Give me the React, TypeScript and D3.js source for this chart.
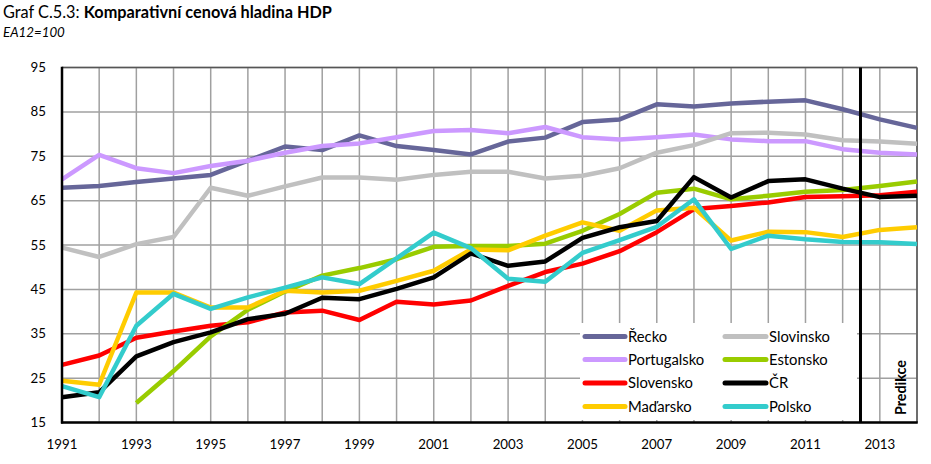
import React from "react";
import * as d3 from "d3";

const years = d3.range(1991, 2015);

const recko = [67.9, 68.3, 69.2, 70.0, 70.8, 74.0, 77.2, 76.4, 79.7, 77.3, 76.4, 75.4, 78.3, 79.2, 82.7, 83.3, 86.7, 86.2, 86.9, 87.3, 87.6, 85.6, 83.3, 81.4];
const portugalsko = [69.8, 75.3, 72.3, 71.2, 72.8, 74.0, 75.8, 77.3, 77.9, 79.3, 80.7, 80.9, 80.2, 81.6, 79.3, 78.8, 79.3, 79.9, 78.8, 78.4, 78.4, 76.6, 75.8, 75.4];
const slovinsko = [54.4, 52.3, 55.2, 56.8, 67.9, 66.1, 68.2, 70.2, 70.2, 69.7, 70.8, 71.5, 71.5, 70.0, 70.6, 72.3, 75.8, 77.5, 80.2, 80.3, 79.9, 78.6, 78.3, 77.8];
const estonsko = [null, null, 19.4, 26.6, 34.4, 40.4, 44.5, 48.1, 49.8, 51.8, 54.6, 54.8, 54.8, 55.3, 58.2, 62.0, 66.8, 67.7, 65.3, 66.1, 67.0, 67.4, 68.3, 69.3];
const slovensko = [28.0, 30.1, 34.1, 35.5, 36.8, 37.6, 39.8, 40.2, 38.1, 42.2, 41.6, 42.5, 45.8, 48.9, 50.8, 53.6, 57.9, 63.1, 63.8, 64.6, 65.8, 66.0, 66.2, 67.0];
const cr = [20.7, 21.8, 29.9, 33.1, 35.3, 38.3, 39.5, 43.1, 42.8, 45.1, 47.7, 53.1, 50.3, 51.3, 56.6, 59.0, 60.4, 70.3, 65.7, 69.4, 69.8, 67.7, 65.8, 66.1];
const madarsko = [24.4, 23.5, 44.3, 44.3, 40.9, 40.9, 44.7, 44.3, 44.7, 46.9, 49.2, 54.0, 53.8, 57.1, 60.1, 58.2, 62.8, 63.4, 56.0, 58.0, 57.9, 56.8, 58.4, 59.0];
const polsko = [23.2, 20.7, 36.8, 44.0, 40.6, 43.2, 45.4, 47.7, 46.2, 52.0, 57.8, 54.3, 47.4, 46.7, 53.2, 56.1, 59.1, 65.3, 54.1, 57.1, 56.3, 55.7, 55.6, 55.2];

const yTicks = [15, 25, 35, 45, 55, 65, 75, 85, 95];
const xTickYears = d3.range(1991, 2014, 2);

const seriesNames = ["Řecko", "Portugalsko", "Slovinsko", "Estonsko", "Slovensko", "ČR", "Maďarsko", "Polsko"];
const seriesColors = ["#666699", "#CC99FF", "#C0C0C0", "#99CC00", "#FF0000", "#000000", "#FFCC00", "#33CCCC"];
const seriesValues = [recko, portugalsko, slovinsko, estonsko, slovensko, cr, madarsko, polsko];
const drawOrder = [0, 1, 2, 4, 3, 6, 5, 7];

const legendCol1 = ["Řecko", "Portugalsko", "Slovensko", "Maďarsko"];
const legendCol2 = ["Slovinsko", "Estonsko", "ČR", "Polsko"];

const W = 931, H = 464;
const left = 62, right = 917, top = 67.5, bottom = 422.5;
const font = "Lato, 'Open Sans', sans-serif";

export default function App() {
  const x = d3.scaleLinear().domain([1991, 2014]).range([left, right]);
  const y = d3.scaleLinear().domain([15, 95]).range([bottom, top]);
  const line = d3
    .line<number | null>()
    .defined((d) => d != null)
    .x((_, i) => x(years[i]))
    .y((d) => y(d as number));

  const colorOf = (name: string) => seriesColors[seriesNames.indexOf(name)];
  const rowY = [336.5, 359.5, 383, 406.5];

  return (
    <svg width={W} height={H} style={{ position: "absolute", left: 0, top: 0, background: "#fff" }} fontFamily={font}>
      <rect x={0} y={0} width={W} height={H} fill="#fff" />
      <text x={3} y={18} fontSize={16.3} fill="#000">
        <tspan>Graf C.5.3: </tspan>
        <tspan fontWeight="bold">Komparativní cenová hladina HDP</tspan>
      </text>
      <text x={3} y={37} fontSize={13.3} fontStyle="italic" fill="#000">EA12=100</text>

      {/* grid */}
      {yTicks.map((t) => (
        <line key={"h" + t} x1={left} x2={right} y1={y(t)} y2={y(t)} stroke="#a0a0a0" strokeWidth={1.5} />
      ))}
      {years.map((yr) => (
        <line key={"v" + yr} x1={x(yr)} x2={x(yr)} y1={top} y2={bottom} stroke="#a0a0a0" strokeWidth={1.5} />
      ))}
      <line x1={left} x2={right} y1={top} y2={top} stroke="#555" strokeWidth={1.5} />
      <line x1={right} x2={right} y1={top} y2={bottom} stroke="#555" strokeWidth={1.5} />

      {/* series */}
      {drawOrder.map((k) => (
        <path
          key={seriesNames[k]}
          d={line(seriesValues[k] as (number | null)[]) || ""}
          fill="none"
          stroke={seriesColors[k]}
          strokeWidth={4.5}
          strokeLinejoin="round"
        />
      ))}

      {/* legend */}
      <rect x={580} y={323} width={277} height={97} fill="#fff" />
      {legendCol1.map((n, i) => (
        <g key={n}>
          <line x1={585} x2={625} y1={rowY[i]} y2={rowY[i]} stroke={colorOf(n)} strokeWidth={5} strokeLinecap="round" />
          <text x={628} y={rowY[i] + 5} fontSize={14.8} fill="#000">{n}</text>
        </g>
      ))}
      {legendCol2.map((n, i) => (
        <g key={n}>
          <line x1={725} x2={766} y1={rowY[i]} y2={rowY[i]} stroke={colorOf(n)} strokeWidth={5} strokeLinecap="round" />
          <text x={769} y={rowY[i] + 5} fontSize={14.8} fill="#000">{n}</text>
        </g>
      ))}

      {/* axes */}
      <line x1={left} x2={left} y1={top - 0.75} y2={bottom + 1} stroke="#000" strokeWidth={2.5} />
      <line x1={left - 1} x2={right + 0.75} y1={bottom} y2={bottom} stroke="#000" strokeWidth={2.5} />

      {/* prediction divider */}
      <line x1={x(2012.48)} x2={x(2012.48)} y1={top} y2={bottom} stroke="#000" strokeWidth={3} />
      <text
        transform={`translate(906,415) rotate(-90)`}
        fontSize={14.3}
        fontWeight="bold"
        fill="#000"
      >
        Predikce
      </text>

      {yTicks.map((t) => (
        <text key={"yt" + t} x={46} y={y(t) + 4.5} fontSize={13.3} textAnchor="end" fill="#000">{t}</text>
      ))}
      {xTickYears.map((yr) => (
        <text key={"xt" + yr} x={x(yr)} y={449} fontSize={13.3} textAnchor="middle" fill="#000">{yr}</text>
      ))}
    </svg>
  );
}
